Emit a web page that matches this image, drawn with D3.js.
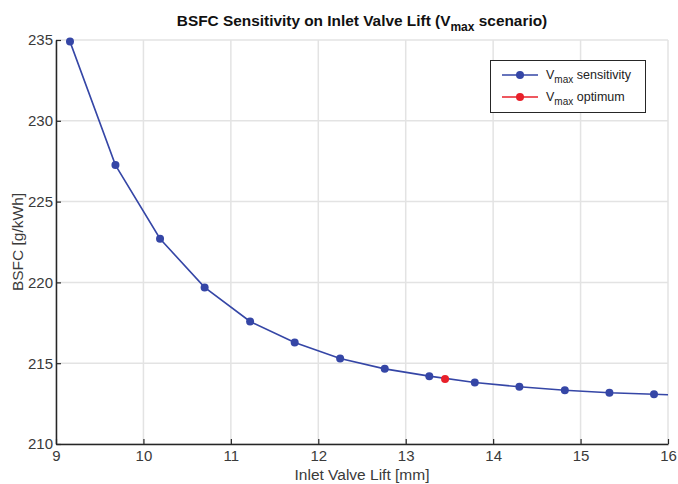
<!DOCTYPE html>
<html><head><meta charset="utf-8">
<script src="https://cdn.jsdelivr.net/npm/d3@7"></script>
<style>body{margin:0;background:#fff}svg{display:block;font-family:"Liberation Sans",Arial,sans-serif}</style>
</head><body><svg id="c" width="678" height="484"></svg>
<script>
const liftValues = [9.16, 9.68, 10.19, 10.70, 11.22, 11.73, 12.25, 12.76, 13.27, 13.79, 14.30, 14.82, 15.33, 15.84, 16.35];
const bsfcValues = [234.9, 227.26, 222.7, 219.69, 217.58, 216.28, 215.29, 214.65, 214.2, 213.81, 213.54, 213.33, 213.17, 213.08, 212.98];
const optimumLift = [13.45];
const optimumBsfc = [214.02];
const xTicks = [9, 10, 11, 12, 13, 14, 15, 16];
const yTicks = [210, 215, 220, 225, 230, 235];

const svg = d3.select("#c");
const L = 56, R = 668, T = 40, B = 444;
const x = d3.scaleLinear().domain([9, 16]).range([L, R]);
const y = d3.scaleLinear().domain([210, 235]).range([B, T]);
const blue = "#3546a6", red = "#e8202a", axisCol = "#262626", txt = "#3a3a3a";

svg.append("defs").append("clipPath").attr("id", "clip")
  .append("rect").attr("x", L).attr("y", T - 6).attr("width", R - L).attr("height", B - T + 6);

// grid
const g = svg.append("g");
g.selectAll(".gx").data(xTicks).join("line")
  .attr("x1", d => x(d)).attr("x2", d => x(d)).attr("y1", T).attr("y2", B)
  .attr("stroke", "#e3e3e3").attr("stroke-width", 1.5);
g.selectAll(".gy").data(yTicks).join("line")
  .attr("x1", L).attr("x2", R).attr("y1", d => y(d)).attr("y2", d => y(d))
  .attr("stroke", "#e3e3e3").attr("stroke-width", 1.5);

// axes
const xAxis = svg.append("g").attr("transform", `translate(0,${B})`)
  .call(d3.axisBottom(x).tickValues(xTicks).tickSizeInner(-5).tickSizeOuter(0).tickPadding(6).tickFormat(d3.format("d")));
const yAxis = svg.append("g").attr("transform", `translate(${L},0)`)
  .call(d3.axisLeft(y).tickValues(yTicks).tickSizeInner(-5).tickSizeOuter(0).tickPadding(3).tickFormat(d3.format("d")));
[xAxis, yAxis].forEach(a => {
  a.select(".domain").attr("stroke", axisCol).attr("stroke-width", 1.5);
  a.selectAll(".tick line").attr("stroke", axisCol).attr("stroke-width", 1.2);
  a.selectAll("text").attr("fill", txt).attr("font-size", 15).attr("font-family", "Liberation Sans, Arial, sans-serif");
});

// line + points
const pts = liftValues.map((v, i) => [v, bsfcValues[i]]);
const plot = svg.append("g").attr("clip-path", "url(#clip)");
plot.append("path").datum(pts)
  .attr("d", d3.line().x(d => x(d[0])).y(d => y(d[1])))
  .attr("fill", "none").attr("stroke", blue).attr("stroke-width", 1.6);
plot.selectAll(".pt").data(pts).join("circle")
  .attr("cx", d => x(d[0])).attr("cy", d => y(d[1])).attr("r", 4).attr("fill", blue);
plot.selectAll(".opt").data(optimumLift.map((v, i) => [v, optimumBsfc[i]])).join("circle")
  .attr("cx", d => x(d[0])).attr("cy", d => y(d[1])).attr("r", 4).attr("fill", red);

// title
const title = svg.append("text").attr("x", (L + R) / 2).attr("y", 26).attr("text-anchor", "middle")
  .attr("font-size", 15.4).attr("font-weight", "bold").attr("fill", "#111");
title.append("tspan").text("BSFC Sensitivity on Inlet Valve Lift (V");
title.append("tspan").attr("font-size", 12).attr("dy", 5).text("max");
title.append("tspan").attr("dy", -5).text(" scenario)");

// axis labels
svg.append("text").attr("x", (L + R) / 2).attr("y", 480).attr("text-anchor", "middle")
  .attr("font-size", 15.5).attr("fill", txt).text("Inlet Valve Lift [mm]");
svg.append("text").attr("transform", `translate(23,${(T + B) / 2}) rotate(-90)`).attr("text-anchor", "middle")
  .attr("font-size", 15.5).attr("fill", txt).text("BSFC [g/kWh]");

// legend
const lg = svg.append("g");
lg.append("rect").attr("x", 490.5).attr("y", 60.5).attr("width", 155).attr("height", 52)
  .attr("fill", "#fff").attr("stroke", "#262626").attr("stroke-width", 1);
const items = [{c: blue, t: "sensitivity", y: 75}, {c: red, t: "optimum", y: 97}];
items.forEach(it => {
  lg.append("line").attr("x1", 502).attr("x2", 538).attr("y1", it.y).attr("y2", it.y).attr("stroke", it.c).attr("stroke-width", 1.6);
  lg.append("circle").attr("cx", 520).attr("cy", it.y).attr("r", 4).attr("fill", it.c);
  const t = lg.append("text").attr("x", 546).attr("y", it.y + 4).attr("font-size", 12.5).attr("fill", "#222");
  t.append("tspan").text("V");
  t.append("tspan").attr("font-size", 10).attr("dy", 4).text("max");
  t.append("tspan").attr("dy", -4).text(" " + it.t);
});
</script></body></html>
